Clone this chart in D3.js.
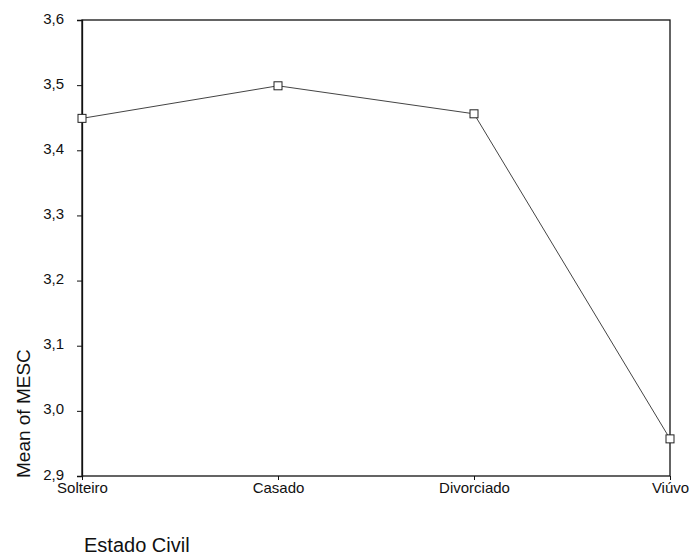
<!DOCTYPE html>
<html><head><meta charset="utf-8">
<script src="https://cdn.jsdelivr.net/npm/d3@7"></script>
<style>body{margin:0;background:#fff}svg{display:block}text{font-family:"Liberation Sans",Arial,sans-serif;fill:#111}</style>
</head><body>
<svg id="c" width="695" height="557"></svg>
<script>
const categories = ["Solteiro","Casado","Divorciado","Viúvo"];
const values = [3.449, 3.499, 3.456, 2.957];
const yTicks = [2.9,3.0,3.1,3.2,3.3,3.4,3.5,3.6];
const yLabel = "Mean of MESC";
const xLabel = "Estado Civil";

const svg = d3.select("#c");
const L=82, R=670, T=20, B=476;
const x = d3.scalePoint().domain(categories).range([L,R]);
const y = d3.scaleLinear().domain([2.9,3.6]).range([B,T]);
const fmt = d => d3.format(".1f")(d).replace(".",",");

// frame
svg.append("rect").attr("x",L).attr("y",T).attr("width",R-L).attr("height",B-T)
  .attr("fill","none").attr("stroke","#111").attr("stroke-width",1.3);

const ya = svg.append("g").attr("transform",`translate(${L},0)`)
  .call(d3.axisLeft(y).tickValues(yTicks).tickFormat(fmt).tickSize(5).tickPadding(13));
ya.select(".domain").attr("stroke","#111").attr("stroke-width",1.3);
ya.selectAll("line").attr("stroke","#111");
ya.selectAll("text").style("font-size","15px").attr("dy","0.2em");

const xa = svg.append("g").attr("transform",`translate(0,${B})`)
  .call(d3.axisBottom(x).tickSize(4).tickPadding(2));
xa.select(".domain").remove();
xa.selectAll("line").attr("stroke","#111");
xa.selectAll("text").style("font-size","15px");

const line = d3.line().x((d,i)=>x(categories[i])).y(d=>y(d));
svg.append("path").datum(values).attr("d",line).attr("fill","none")
  .attr("stroke","#444").attr("stroke-width",1);

svg.selectAll("rect.m").data(values).join("rect").attr("class","m")
  .attr("x",(d,i)=>x(categories[i])-4).attr("y",d=>y(d)-4)
  .attr("width",8).attr("height",8).attr("fill","#fff").attr("stroke","#222").attr("stroke-width",1);

svg.append("text").attr("transform","translate(30,478) rotate(-90)")
  .attr("text-anchor","start").style("font-size","19px").text(yLabel);
svg.append("text").attr("x",84).attr("y",552).style("font-size","20px").text(xLabel);
</script>
</body></html>
